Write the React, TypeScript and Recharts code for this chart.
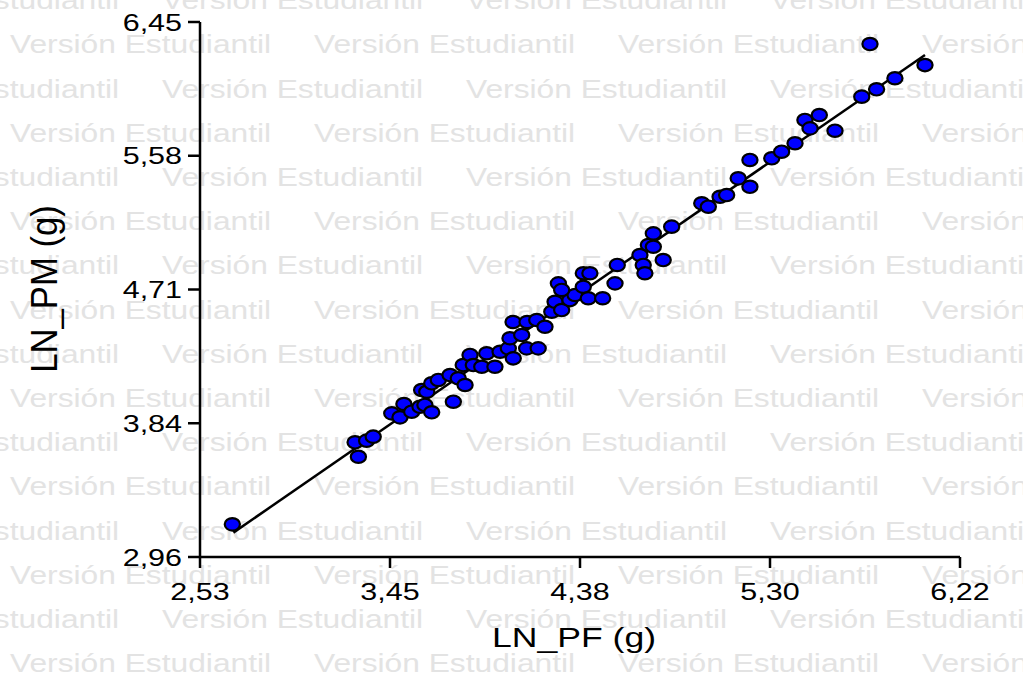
import React from "react";
import { Scatter, ScatterChart, XAxis, YAxis } from "recharts";

// LN_PF (g) vs LN_PM (g)
const lnPF = [
  2.687, 3.283, 3.339, 3.371, 3.299, 3.461, 3.501, 3.52, 3.558, 3.598, 3.622, 3.655,
  3.606, 3.631, 3.655, 3.687, 3.744, 3.784, 3.817, 3.76, 3.808, 3.841, 3.857, 3.898,
  3.922, 3.962, 3.987, 4.027, 4.051, 4.035, 4.092, 4.116, 4.172, 4.05, 4.118, 4.165,
  4.205, 4.238, 4.254, 4.286, 4.326, 4.351, 4.391, 4.27, 4.286, 4.391, 4.423, 4.415,
  4.485, 4.545, 4.556, 4.666, 4.682, 4.69, 4.707, 4.731, 4.779, 4.731, 4.82, 4.966,
  4.998, 5.055, 5.087, 5.143, 5.2, 5.2, 5.306, 5.354, 5.419, 5.467, 5.492, 5.537,
  5.613, 5.743, 5.815, 5.904, 6.05, 5.783,
];
const lnPM = [
  3.173, 3.708, 3.719, 3.745, 3.614, 3.897, 3.871, 3.958, 3.908, 3.94, 3.952, 3.904,
  4.049, 4.038, 4.093, 4.115, 4.147, 4.126, 4.082, 3.973, 4.212, 4.278, 4.212, 4.201,
  4.289, 4.201, 4.299, 4.321, 4.256, 4.387, 4.408, 4.321, 4.321, 4.493, 4.493, 4.506,
  4.462, 4.56, 4.625, 4.571, 4.636, 4.669, 4.723, 4.745, 4.702, 4.811, 4.811, 4.648,
  4.648, 4.745, 4.865, 4.93, 4.865, 4.811, 4.995, 4.984, 4.897, 5.071, 5.115, 5.267,
  5.245, 5.31, 5.321, 5.43, 5.375, 5.55, 5.561, 5.604, 5.659, 5.811, 5.756, 5.843,
  5.741, 5.963, 6.011, 6.083, 6.169, 6.306,
];

// fitted line end points
const fitPF = [2.692, 6.05];
const fitPM = [3.119, 6.235];

const xTicks = [2.53, 3.4525, 4.375, 5.2975, 6.22];
const xTickLabels = ["2,53", "3,45", "4,38", "5,30", "6,22"];
const yTicks = [2.96, 3.8325, 4.705, 5.5775, 6.45];
const yTickLabels = ["2,96", "3,84", "4,71", "5,58", "6,45"];

const WATERMARK = "Versión Estudiantil";
const FONT = "'Liberation Sans', Arial, sans-serif";
const SX = 1.27; // the original image is stretched horizontally

const points = lnPF.map((x, i) => ({ x, y: lnPM[i] }));
const fitData = fitPF.map((x, i) => ({ x, y: fitPM[i] }));

function labelFor(ticks: number[], labels: string[], v: number) {
  let best = 0;
  ticks.forEach((t, i) => {
    if (Math.abs(t - v) < Math.abs(ticks[best] - v)) best = i;
  });
  return labels[best];
}

function XTick(props: any) {
  const { x, y, payload } = props;
  return (
    <text
      transform={`translate(${x},${y}) scale(${SX},1)`}
      textAnchor="middle"
      dy="0.71em"
      fontSize={24}
      fontFamily={FONT}
      fill="#000"
    >
      {labelFor(xTicks, xTickLabels, payload.value)}
    </text>
  );
}

function YTick(props: any) {
  const { x, y, payload } = props;
  return (
    <text
      transform={`translate(${x},${y}) scale(${SX},1)`}
      textAnchor="end"
      dy="0.36em"
      fontSize={24}
      fontFamily={FONT}
      fill="#000"
    >
      {labelFor(yTicks, yTickLabels, payload.value)}
    </text>
  );
}

function Dot(props: any) {
  const { cx, cy } = props;
  return <ellipse cx={cx} cy={cy} rx={7.6} ry={6.2} fill="#0000ff" stroke="#000" strokeWidth={2.2} />;
}

function Watermark() {
  const rows = [];
  for (let k = 0; k < 16; k++) {
    const y = 9.1 + k * 44.2;
    const x0 = k % 2 === 0 ? -142 : 10;
    for (let j = 0; j < 5; j++) {
      const x = x0 + j * 304;
      rows.push(
        <text
          key={`${k}-${j}`}
          transform={`translate(${x},${y}) scale(${SX},1)`}
          fontSize={25}
          fontFamily={FONT}
          fill="#e3e3e3"
        >
          {WATERMARK}
        </text>
      );
    }
  }
  return <>{rows}</>;
}

export default function App() {
  return (
    <div style={{ position: "absolute", left: 0, top: 0, width: 1023, height: 688, background: "#fff" }}>
      <svg width={1023} height={688} style={{ position: "absolute", left: 0, top: 0 }}>
        <Watermark />
        <text
          transform={`translate(574,647) scale(${SX},1)`}
          textAnchor="middle"
          fontSize={28}
          fontFamily={FONT}
          fill="#000"
        >
          LN_PF (g)
        </text>
        <text
          transform={`translate(57,289) rotate(-90) scale(1.24,1.3)`}
          textAnchor="middle"
          fontSize={28}
          fontFamily={FONT}
          fill="#000"
        >
          LN_PM (g)
        </text>
      </svg>
      <div style={{ position: "absolute", left: 0, top: 0 }}>
        <ScatterChart width={1023} height={688} margin={{ top: 22, right: 63, bottom: 71, left: 120 }}>
          <XAxis
            type="number"
            dataKey="x"
            domain={[2.53, 6.22]}
            ticks={xTicks}
            interval={0}
            height={60}
            tickSize={11}
            tickMargin={15}
            axisLine={{ stroke: "#000", strokeWidth: 2.5 }}
            tickLine={{ stroke: "#000", strokeWidth: 2.5 }}
            tick={<XTick />}
            allowDataOverflow
          />
          <YAxis
            type="number"
            dataKey="y"
            domain={[2.96, 6.45]}
            ticks={yTicks}
            interval={0}
            width={80}
            tickSize={12}
            tickMargin={6}
            axisLine={{ stroke: "#000", strokeWidth: 2.5 }}
            tickLine={{ stroke: "#000", strokeWidth: 2.5 }}
            tick={<YTick />}
            allowDataOverflow
          />
          <Scatter
            data={fitData}
            line={{ stroke: "#000", strokeWidth: 2.5 }}
            shape={() => <g />}
            isAnimationActive={false}
          />
          <Scatter data={points} shape={<Dot />} isAnimationActive={false} />
        </ScatterChart>
      </div>
    </div>
  );
}
